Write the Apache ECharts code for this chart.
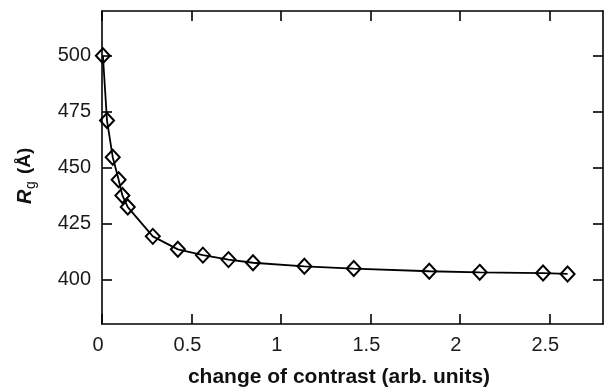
<!DOCTYPE html>
<html>
<head>
<meta charset="utf-8">
<script src="https://cdn.jsdelivr.net/npm/echarts@6/dist/echarts.min.js"></script>
<style>
html,body{margin:0;padding:0;background:#fff;}
#chart{width:605px;height:388px;}
</style>
</head>
<body>
<div id="chart"></div>
<script>
const contrast = [0.005, 0.028, 0.06, 0.093, 0.114, 0.144, 0.284, 0.424, 0.564, 0.707, 0.844, 1.131, 1.407, 1.829, 2.111, 2.465, 2.602];
const rg = [500.0, 471.0, 454.6, 444.5, 437.5, 432.3, 419.2, 413.4, 410.8, 408.8, 407.4, 405.8, 404.8, 403.6, 403.1, 402.8, 402.4];
const xTicks = [0, 0.5, 1, 1.5, 2, 2.5];
const yTicks = [400, 425, 450, 475, 500];
const xLabel = 'change of contrast (arb. units)';
const yLabelMain = 'R';
const yLabelSub = 'g';
const yLabelUnit = '(Å)';

const chart = echarts.init(document.getElementById('chart'), null, {renderer: 'canvas'});
const font = 'Liberation Sans, Arial, Helvetica, sans-serif';
const axisLine = {show: true, onZero: false, lineStyle: {color: '#000', width: 1.6}};
const tick = (vals) => ({show: true, inside: true, length: 10, customValues: vals, lineStyle: {color: '#000', width: 1.6}});
const rot = Math.PI / 2;

chart.setOption({
  animation: false,
  backgroundColor: '#fff',
  grid: {left: 102, right: 2, top: 11, bottom: 64},
  xAxis: [
    {type: 'value', min: 0, max: 2.8, position: 'bottom',
     axisLine: axisLine, axisTick: tick(xTicks), splitLine: {show: false},
     axisLabel: {customValues: xTicks, color: '#1a1a1a', fontSize: 20, fontFamily: font, margin: 11, padding: [0, 8, 0, 0],
                 formatter: v => String(v)}},
    {type: 'value', min: 0, max: 2.8, position: 'top',
     axisLine: axisLine, axisTick: tick(xTicks), splitLine: {show: false}, axisLabel: {show: false}}
  ],
  yAxis: [
    {type: 'value', min: 380, max: 520, position: 'left',
     axisLine: axisLine, axisTick: tick(yTicks), splitLine: {show: false},
     axisLabel: {customValues: yTicks, color: '#1a1a1a', fontSize: 20, fontFamily: font, margin: 11}},
    {type: 'value', min: 380, max: 520, position: 'right',
     axisLine: axisLine, axisTick: tick(yTicks), splitLine: {show: false}, axisLabel: {show: false}}
  ],
  graphic: [
    {type: 'text', x: 339, y: 377,
     style: {text: xLabel, font: 'bold 21px ' + font, fill: '#111', align: 'center', verticalAlign: 'middle'}},
    {type: 'text', x: 25, y: 204, rotation: rot,
     style: {text: yLabelMain, font: 'italic bold 20px ' + font, fill: '#111', align: 'left', verticalAlign: 'middle'}},
    {type: 'text', x: 31, y: 189, rotation: rot,
     style: {text: yLabelSub, font: '14px ' + font, fill: '#111', align: 'left', verticalAlign: 'middle'}},
    {type: 'text', x: 25, y: 174, rotation: rot,
     style: {text: yLabelUnit, font: 'bold 19px ' + font, fill: '#111', align: 'left', verticalAlign: 'middle'}}
  ],
  series: [{
    type: 'line',
    data: contrast.map((x, i) => [x, rg[i]]),
    symbol: 'diamond',
    symbolSize: [14, 15],
    showAllSymbol: true,
    lineStyle: {color: '#000', width: 1.8},
    itemStyle: {color: 'rgba(0,0,0,0)', borderColor: '#000', borderWidth: 2},
    z: 5
  }]
});
</script>
</body>
</html>
